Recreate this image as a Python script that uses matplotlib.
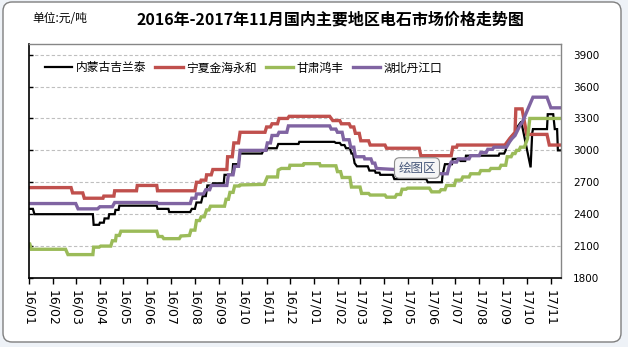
import matplotlib
matplotlib.use("Agg")
import matplotlib.pyplot as plt
import matplotlib.dates as mdates
from matplotlib.patches import FancyBboxPatch
from matplotlib.transforms import IdentityTransform
import pandas as pd

plt.rcParams['font.family'] = ['Noto Sans CJK SC', 'DejaVu Sans']

# 内蒙古吉兰泰
jlt_dates = ['2016-01-01', '2016-01-06', '2016-01-08', '2016-03-23', '2016-03-24', '2016-03-31',
             '2016-04-01', '2016-04-06', '2016-04-07', '2016-04-12', '2016-04-13', '2016-04-20',
             '2016-04-21', '2016-04-25', '2016-04-26', '2016-06-13', '2016-06-14', '2016-06-28',
             '2016-06-29', '2016-07-26', '2016-07-28', '2016-08-01', '2016-08-03', '2016-08-09',
             '2016-08-11', '2016-08-15', '2016-08-17', '2016-08-23', '2016-08-24', '2016-09-07',
             '2016-09-08', '2016-09-18', '2016-09-19', '2016-09-26', '2016-09-28', '2016-10-26',
             '2016-10-28', '2016-11-01', '2016-11-02', '2016-11-14', '2016-11-16', '2016-12-12',
             '2016-12-13', '2017-01-27', '2017-01-29', '2017-02-03', '2017-02-05', '2017-02-09',
             '2017-02-11', '2017-02-16', '2017-02-18', '2017-02-20', '2017-02-22', '2017-02-25',
             '2017-03-11', '2017-03-13', '2017-03-20', '2017-03-21', '2017-03-26', '2017-03-27',
             '2017-04-12', '2017-04-14', '2017-05-25', '2017-05-27', '2017-06-14', '2017-06-15',
             '2017-06-18', '2017-06-27', '2017-06-28', '2017-07-07', '2017-07-08', '2017-07-14',
             '2017-07-15', '2017-08-26', '2017-08-27', '2017-09-02', '2017-09-04', '2017-09-05',
             '2017-09-09', '2017-09-16', '2017-09-19', '2017-09-24', '2017-10-06', '2017-10-08',
             '2017-10-09', '2017-10-27', '2017-10-28', '2017-11-04', '2017-11-06', '2017-11-09',
             '2017-11-10', '2017-11-14']
jlt_prices = [2450, 2450, 2400, 2400, 2300, 2300,
              2320, 2320, 2360, 2360, 2400, 2400,
              2440, 2440, 2480, 2480, 2450, 2450,
              2420, 2420, 2450, 2450, 2510, 2510,
              2570, 2570, 2670, 2670, 2690, 2690,
              2770, 2770, 2870, 2870, 2970, 2970,
              3000, 3000, 3020, 3020, 3060, 3060,
              3080, 3080, 3070, 3070, 3050, 3050,
              3020, 3020, 2970, 2970, 2880, 2850,
              2850, 2810, 2810, 2790, 2790, 2770,
              2770, 2730, 2730, 2700, 2700, 2770,
              2870, 2870, 2920, 2920, 2900, 2900,
              2950, 2950, 2970, 2970, 3000, 3050,
              3110, 3170, 3220, 3270, 2840, 3160,
              3200, 3200, 3340, 3340, 3200, 3200,
              3000, 3000]

# 宁夏金海永和
jhyh_dates = ['2016-01-01', '2016-02-24', '2016-02-26', '2016-03-10', '2016-03-12', '2016-04-05',
              '2016-04-06', '2016-04-19', '2016-04-20', '2016-05-18', '2016-05-19', '2016-06-13',
              '2016-06-14', '2016-08-01', '2016-08-03', '2016-08-08', '2016-08-09', '2016-08-15',
              '2016-08-16', '2016-08-22', '2016-08-24', '2016-09-11', '2016-09-12', '2016-09-18',
              '2016-09-20', '2016-09-26', '2016-09-28', '2016-10-30', '2016-11-01', '2016-11-06',
              '2016-11-08', '2016-11-15', '2016-11-17', '2016-11-28', '2016-11-30', '2017-01-21',
              '2017-01-25', '2017-02-03', '2017-02-05', '2017-02-15', '2017-02-17', '2017-02-21',
              '2017-02-23', '2017-02-28', '2017-03-02', '2017-03-12', '2017-03-14', '2017-04-02',
              '2017-04-04', '2017-05-16', '2017-05-18', '2017-06-26', '2017-06-28', '2017-07-03',
              '2017-07-04', '2017-09-03', '2017-09-09', '2017-09-16', '2017-09-17', '2017-09-25',
              '2017-10-01', '2017-10-27', '2017-10-30', '2017-11-14']
jhyh_prices = [2650, 2650, 2600, 2600, 2550, 2550,
               2570, 2570, 2620, 2620, 2670, 2670,
               2620, 2620, 2700, 2700, 2720, 2720,
               2770, 2770, 2820, 2820, 2940, 2940,
               3070, 3070, 3170, 3170, 3220, 3220,
               3250, 3250, 3300, 3300, 3320, 3320,
               3280, 3280, 3250, 3250, 3220, 3220,
               3160, 3160, 3090, 3090, 3050, 3050,
               3020, 3020, 2950, 2950, 3030, 3030,
               3050, 3050, 3110, 3170, 3390, 3390,
               3150, 3150, 3050, 3050]

# 甘肃鸿丰
hf_dates = ['2016-01-01', '2016-01-02', '2016-01-04', '2016-02-17', '2016-02-20', '2016-03-23',
            '2016-03-24', '2016-03-31', '2016-04-02', '2016-04-15', '2016-04-17', '2016-04-21',
            '2016-04-22', '2016-04-26', '2016-04-28', '2016-06-13', '2016-06-15', '2016-06-20',
            '2016-06-22', '2016-07-12', '2016-07-14', '2016-07-25', '2016-07-27', '2016-08-01',
            '2016-08-03', '2016-08-07', '2016-08-09', '2016-08-13', '2016-08-16', '2016-08-19',
            '2016-08-21', '2016-09-08', '2016-09-10', '2016-09-13', '2016-09-15', '2016-09-19',
            '2016-09-21', '2016-09-27', '2016-09-28', '2016-10-29', '2016-11-02', '2016-11-15',
            '2016-11-16', '2016-11-20', '2016-11-30', '2016-12-01', '2016-12-18', '2016-12-19',
            '2017-01-08', '2017-01-09', '2017-01-29', '2017-01-31', '2017-02-04', '2017-02-06',
            '2017-02-16', '2017-02-18', '2017-03-01', '2017-03-03', '2017-03-12', '2017-03-14',
            '2017-04-02', '2017-04-04', '2017-04-15', '2017-04-17', '2017-04-22', '2017-04-24',
            '2017-04-29', '2017-05-01', '2017-05-29', '2017-06-01', '2017-06-11', '2017-06-13',
            '2017-06-18', '2017-06-20', '2017-06-30', '2017-07-02', '2017-07-09', '2017-07-11',
            '2017-07-19', '2017-07-21', '2017-08-01', '2017-08-03', '2017-08-14', '2017-08-16',
            '2017-08-27', '2017-08-29', '2017-09-04', '2017-09-06', '2017-09-11', '2017-09-13',
            '2017-09-16', '2017-09-18', '2017-09-21', '2017-09-23', '2017-09-28', '2017-10-02',
            '2017-10-05', '2017-11-14']
hf_prices = [2120, 2120, 2070, 2070, 2020, 2020,
             2090, 2090, 2100, 2100, 2150, 2150,
             2200, 2200, 2240, 2240, 2190, 2190,
             2170, 2170, 2195, 2200, 2250, 2250,
             2340, 2340, 2375, 2375, 2440, 2440,
             2475, 2475, 2540, 2540, 2605, 2605,
             2665, 2665, 2675, 2680, 2750, 2750,
             2815, 2830, 2830, 2860, 2860, 2875,
             2875, 2855, 2855, 2800, 2800, 2745,
             2745, 2655, 2655, 2595, 2595, 2580,
             2580, 2560, 2560, 2585, 2585, 2635,
             2635, 2645, 2645, 2610, 2610, 2630,
             2630, 2670, 2670, 2720, 2720, 2750,
             2750, 2780, 2780, 2810, 2810, 2830,
             2830, 2860, 2860, 2940, 2940, 2970,
             2970, 3000, 3000, 3030, 3030, 3110,
             3300, 3300]

# 湖北丹江口
djk_dates = ['2016-01-01', '2016-03-01', '2016-03-04', '2016-03-29', '2016-04-01', '2016-04-17',
             '2016-04-20', '2016-06-13', '2016-06-14', '2016-07-26', '2016-07-28', '2016-08-02',
             '2016-08-03', '2016-08-12', '2016-08-15', '2016-08-20', '2016-08-22', '2016-09-11',
             '2016-09-13', '2016-09-19', '2016-09-21', '2016-09-26', '2016-09-28', '2016-10-31',
             '2016-11-02', '2016-11-06', '2016-11-08', '2016-11-15', '2016-11-17', '2016-11-27',
             '2016-11-29', '2017-01-21', '2017-01-23', '2017-01-29', '2017-01-31', '2017-02-06',
             '2017-02-08', '2017-02-15', '2017-02-17', '2017-02-21', '2017-02-23', '2017-03-06',
             '2017-03-07', '2017-03-15', '2017-03-17', '2017-03-20', '2017-03-22', '2017-04-15',
             '2017-06-14', '2017-06-21', '2017-06-23', '2017-06-26', '2017-07-03', '2017-07-05',
             '2017-07-19', '2017-07-21', '2017-08-01', '2017-08-03', '2017-08-10', '2017-08-12',
             '2017-08-18', '2017-08-20', '2017-09-05', '2017-09-09', '2017-09-12', '2017-09-16',
             '2017-09-22', '2017-09-25', '2017-10-09', '2017-10-27', '2017-11-01', '2017-11-14']
djk_prices = [2500, 2500, 2450, 2450, 2470, 2470,
              2510, 2510, 2500, 2500, 2550, 2550,
              2590, 2590, 2630, 2630, 2670, 2670,
              2770, 2770, 2850, 2850, 3000, 3000,
              3070, 3070, 3140, 3140, 3170, 3170,
              3230, 3230, 3200, 3200, 3170, 3170,
              3100, 3100, 3030, 3030, 2940, 2940,
              2920, 2920, 2880, 2880, 2830, 2820,
              2780, 2780, 2840, 2890, 2890, 2920,
              2920, 2950, 2950, 2980, 2980, 3010,
              3010, 3030, 3030, 3080, 3110, 3140,
              3230, 3260, 3500, 3500, 3400, 3400]

series_names = ['内蒙古吉兰泰', '宁夏金海永和', '甘肃鸿丰', '湖北丹江口']
series_colors = ['#000000', '#c0504d', '#9bbb59', '#8064a2']
series_widths = [1.6, 2.4, 2.4, 2.4]

y_ticks = [1800, 2100, 2400, 2700, 3000, 3300, 3600, 3900]

fig = plt.figure(figsize=(6.28, 3.47), dpi=100, facecolor='#eef2f7')

# rounded chart frame, kept behind the axes
frame = FancyBboxPatch((3, 5), 618, 340, boxstyle='round,pad=0,rounding_size=9',
                       transform=IdentityTransform(), fc='white', ec='#7f7f7f', lw=1.0,
                       zorder=-10)
fig.patches.append(frame)

ax = fig.add_axes([29 / 628, 69 / 347, 532 / 628, 234 / 347])
ax.set_facecolor('white')

all_dates = [jlt_dates, jhyh_dates, hf_dates, djk_dates]
all_prices = [jlt_prices, jhyh_prices, hf_prices, djk_prices]
for d, p, name, c, w in zip(all_dates, all_prices, series_names, series_colors, series_widths):
    ax.plot(pd.to_datetime(d), p, color=c, lw=w, label=name, solid_joinstyle='miter')

ax.set_ylim(1800, 4000)
ax.set_yticks(y_ticks)
ax.set_xlim(pd.Timestamp('2016-01-01'), pd.Timestamp('2017-11-14'))
ax.xaxis.set_major_locator(mdates.MonthLocator())
ax.xaxis.set_major_formatter(mdates.DateFormatter('%y/%m'))

ax.grid(axis='y', color='#bfbfbf', lw=0.8, ls=(0, (3, 2)))
ax.set_axisbelow(True)

for side in ['top', 'right']:
    ax.spines[side].set_color('#868686')
    ax.spines[side].set_linewidth(1.0)
for side in ['left', 'bottom']:
    ax.spines[side].set_color('black')
    ax.spines[side].set_linewidth(1.2)

ax.tick_params(axis='y', left=True, right=False, labelleft=False, labelright=True,
               direction='in', length=3, width=1, pad=8.5, labelsize=7.5, labelfontfamily='DejaVu Sans')
ax.tick_params(axis='x', direction='out', length=4, width=1, pad=5, labelsize=9,
               labelrotation=-90, labelfontfamily='DejaVu Sans')

leg = ax.legend(loc='center left', bbox_to_anchor=(40 / 628, 1 - 68 / 347),
                bbox_transform=fig.transFigure, ncol=4, frameon=True, fancybox=False,
                fontsize=8.5, handlelength=2.3, handletextpad=0.3, columnspacing=0.8,
                borderpad=0.4, borderaxespad=0)
leg.get_frame().set_facecolor('white')
leg.get_frame().set_edgecolor('none')
leg.get_frame().set_alpha(1)

fig.text(32 / 628, 1 - 19 / 347, '单位:元/吨', fontsize=8.5, ha='left', va='center')
fig.text(330 / 628, 1 - 20 / 347, '2016年-2017年11月国内主要地区电石市场价格走势图',
         fontsize=11.5, fontweight='bold', ha='center', va='center')

# plot-area hover label
fig.text(417 / 628, 1 - 168 / 347, '绘图区', fontsize=9, color='#47587a', ha='center', va='center',
         bbox=dict(boxstyle='round,pad=0.3,rounding_size=0.4', fc='#f5f5f5', ec='#8c8c8c', lw=0.8))

fig.savefig('out.png', dpi=100, facecolor=fig.get_facecolor())
